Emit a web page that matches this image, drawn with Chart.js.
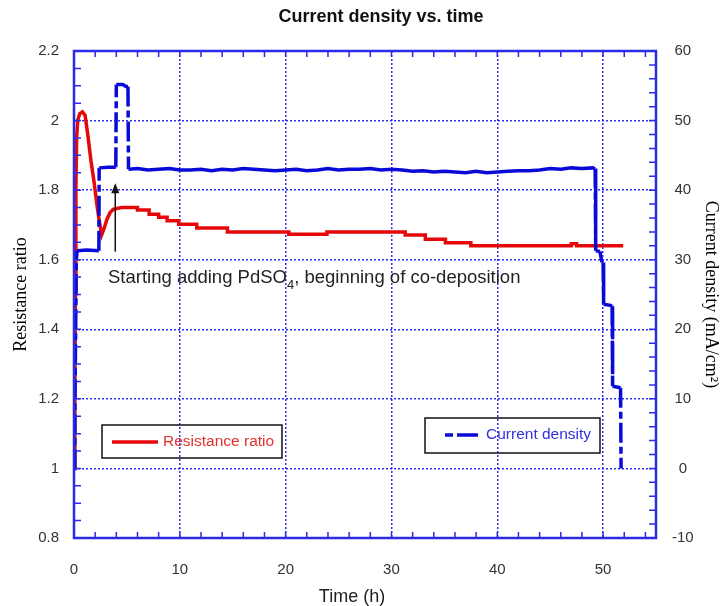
<!DOCTYPE html>
<html>
<head>
<meta charset="utf-8">
<script src="https://cdn.jsdelivr.net/npm/chart.js@4.4.0/dist/chart.umd.min.js"></script>
<style>
  html, body { margin: 0; padding: 0; background: #fff; }
</style>
</head>
<body>
<canvas id="currentChart" width="722" height="606"></canvas>
<script>
// resistance ratio (left axis) vs time in hours
const resTime = [0, 0.08, 0.13, 0.18, 0.25, 0.35, 0.55, 0.8, 1.05, 1.3,
  1.6, 1.87, 2.19, 2.45, 2.62, 2.85, 3.1, 3.4, 3.7, 4.5,
  6.0, 6.0, 7.1, 7.1, 8.0, 8.0, 8.8, 8.8, 9.9, 9.9,
  11.6, 11.6, 14.5, 14.5, 20.3, 20.3, 23.9, 23.9, 31.3, 31.3,
  33.2, 33.2, 35.1, 35.1, 37.5, 37.5, 47.0, 47.0, 47.5, 47.5, 51.9];
const resRatio = [1.0, 1.2, 1.5, 1.8, 1.95, 2.0, 2.02, 2.025, 2.015, 1.96,
  1.885, 1.829, 1.752, 1.7, 1.672, 1.69, 1.715, 1.735, 1.745, 1.75,
  1.75, 1.743, 1.743, 1.731, 1.731, 1.722, 1.722, 1.712, 1.712, 1.702,
  1.702, 1.691, 1.691, 1.68, 1.68, 1.673, 1.673, 1.68, 1.68, 1.671,
  1.671, 1.659, 1.659, 1.649, 1.649, 1.64, 1.64, 1.646, 1.646, 1.64, 1.64];

// current density (right axis, mA/cm2) vs time in hours
const curTime = [0, 0.08, 0.22, 0.3, 1.2, 2.35, 2.38, 3.2, 3.95, 4.0,
  4.6, 4.9, 5.1, 5.15, 6, 7, 8, 9, 10, 11,
  12, 13, 14, 15, 16, 17, 18, 19, 20, 21,
  22, 23, 24, 25, 26, 27, 28, 29, 30, 31,
  32, 33, 34, 35, 36, 37, 38, 39, 40, 41,
  42, 43, 44, 45, 46, 47, 48, 49, 49.25, 49.3,
  49.7, 49.9, 50.0, 50.05, 50.85, 50.9, 51.65, 51.7];
const curDensity = [0, 8, 30, 31.3, 31.4, 31.3, 43.2, 43.3, 43.3, 55.2,
  55.2, 54.9, 54.9, 43.0, 43.1, 42.9, 43.0, 43.1, 42.9, 42.9,
  43.0, 42.8, 43.0, 42.9, 43.1, 43.0, 42.9, 42.8, 42.9, 43.0,
  42.8, 42.9, 43.1, 42.9, 43.0, 43.0, 43.1, 42.9, 43.0, 42.9,
  42.7, 42.8, 42.6, 42.7, 42.6, 42.5, 42.7, 42.5, 42.6, 42.7,
  42.8, 42.8, 42.9, 43.1, 43.0, 43.2, 43.1, 43.2, 43.1, 31.3,
  31.2, 29.6, 29.6, 23.6, 23.4, 11.8, 11.6, 0];

const xRange = [0, 55];
const leftRange = [0.8, 2.2];
const rightRange = [-10, 60];

const red = '#e60808';
const blue = '#0a0ad8';
const axisBlue = '#2b2be6';
const gridBlue = 'rgba(35,35,235,0.95)';
const sans = '"Liberation Sans", Arial, sans-serif';
const serif = '"Liberation Serif", "Times New Roman", serif';
const blueDash = [20, 4, 7, 4];

const steep = c => Math.abs(c.p1.y - c.p0.y) > 2 * Math.abs(c.p1.x - c.p0.x);

const decorations = {
  id: 'decorations',
  afterDraw(chart) {
    const {ctx, chartArea: a, scales} = chart;
    const x = scales.x, y = scales.y, y2 = scales.y2;
    ctx.save();

    // inner tick marks
    ctx.strokeStyle = axisBlue;
    ctx.lineWidth = 1.5;
    ctx.beginPath();
    for (let t = 0; t <= 54; t += 2) {
      const px = x.getPixelForValue(t);
      ctx.moveTo(px, a.bottom); ctx.lineTo(px, a.bottom - 6);
      ctx.moveTo(px, a.top); ctx.lineTo(px, a.top + 6);
    }
    for (let k = 0; k <= 28; k++) {
      const py = y.getPixelForValue(0.8 + k * 0.05);
      ctx.moveTo(a.left, py); ctx.lineTo(a.left + 7, py);
    }
    for (let c = -10; c <= 60; c += 2) {
      const py = y2.getPixelForValue(c);
      ctx.moveTo(a.right, py); ctx.lineTo(a.right - 7, py);
    }
    ctx.stroke();

    // frame
    ctx.lineWidth = 2.5;
    ctx.strokeRect(a.left, a.top, a.right - a.left, a.bottom - a.top);

    // titles
    ctx.fillStyle = '#111';
    ctx.textAlign = 'center';
    ctx.textBaseline = 'middle';
    ctx.font = 'bold 18px ' + sans;
    ctx.fillText('Current density vs. time', 381, 17);
    ctx.font = '18px ' + sans;
    ctx.fillStyle = '#222';
    ctx.fillText('Time (h)', 352, 597);

    // annotation
    ctx.textAlign = 'left';
    ctx.textBaseline = 'alphabetic';
    ctx.font = '18.5px ' + sans;
    ctx.fillStyle = '#222';
    let tx = 108;
    const part1 = 'Starting adding PdSO';
    ctx.fillText(part1, tx, 283);
    tx += ctx.measureText(part1).width;
    ctx.font = '13px ' + sans;
    ctx.fillText('4', tx, 289);
    tx += ctx.measureText('4').width;
    ctx.font = '18.5px ' + sans;
    ctx.fillText(', beginning of co-deposition', tx, 283);

    // arrow
    const ax = x.getPixelForValue(3.9);
    const ayTop = y.getPixelForValue(1.82);
    const ayBot = y.getPixelForValue(1.623);
    ctx.strokeStyle = '#111';
    ctx.lineWidth = 1.5;
    ctx.beginPath();
    ctx.moveTo(ax, ayBot); ctx.lineTo(ax, ayTop + 2);
    ctx.stroke();
    ctx.fillStyle = '#111';
    ctx.beginPath();
    ctx.moveTo(ax, ayTop); ctx.lineTo(ax - 4, ayTop + 10); ctx.lineTo(ax + 4, ayTop + 10);
    ctx.closePath(); ctx.fill();

    // legend boxes
    ctx.strokeStyle = '#111';
    ctx.lineWidth = 1.5;
    ctx.strokeRect(102, 425, 180, 33);
    ctx.strokeRect(425, 418, 175, 35);

    ctx.strokeStyle = red;
    ctx.lineWidth = 3.5;
    ctx.beginPath(); ctx.moveTo(112, 442); ctx.lineTo(158, 442); ctx.stroke();
    ctx.fillStyle = '#e43030';
    ctx.font = '15.5px ' + sans;
    ctx.textBaseline = 'middle';
    ctx.fillText('Resistance ratio', 163, 442);

    ctx.strokeStyle = blue;
    ctx.beginPath();
    ctx.moveTo(445, 435); ctx.lineTo(453, 435);
    ctx.moveTo(457, 435); ctx.lineTo(478, 435);
    ctx.stroke();
    ctx.fillStyle = '#3030e0';
    ctx.fillText('Current density', 486, 435);

    ctx.restore();
  }
};

const ctx = document.getElementById('currentChart').getContext('2d');
const currentChart = new Chart(ctx, {
  type: 'line',
  data: {
    datasets: [{
      label: 'Current density',
      yAxisID: 'y2',
      order: 0,
      data: curTime.map((t, i) => ({x: t, y: curDensity[i]})),
      borderColor: blue,
      borderWidth: 3.5,
      pointRadius: 0,
      tension: 0,
      segment: { borderDash: c => steep(c) ? blueDash : undefined }
    }, {
      label: 'Resistance ratio',
      yAxisID: 'y',
      order: 1,
      data: resTime.map((t, i) => ({x: t, y: resRatio[i]})),
      borderColor: red,
      borderWidth: 3.5,
      pointRadius: 0,
      tension: 0
    }]
  },
  options: {
    responsive: false,
    animation: false,
    layout: { padding: { top: 51, left: 0, right: 0, bottom: 0 } },
    plugins: {
      legend: { display: false },
      tooltip: { enabled: false },
      title: { display: false }
    },
    scales: {
      x: {
        type: 'linear',
        min: xRange[0],
        max: xRange[1],
        afterFit: s => { s.height = 68; },
        ticks: { stepSize: 10, includeBounds: false, padding: 23, maxRotation: 0,
                 color: '#333', font: { family: sans, size: 15 } },
        grid: { color: gridBlue, lineWidth: 1.5, drawTicks: false },
        border: { display: false, dash: [2, 2] }
      },
      y: {
        position: 'left',
        min: leftRange[0],
        max: leftRange[1],
        afterFit: s => { s.width = 74; },
        ticks: { stepSize: 0.2, padding: 15, color: '#333', font: { family: sans, size: 15 },
                 callback: v => String(Math.round(v * 10) / 10) },
        grid: { color: gridBlue, lineWidth: 1.5, drawTicks: false },
        border: { display: false, dash: [2, 2] },
        title: { display: true, text: 'Resistance ratio', color: '#000',
                 font: { family: serif, size: 18 }, padding: { top: 10, bottom: 0 } }
      },
      y2: {
        position: 'right',
        min: rightRange[0],
        max: rightRange[1],
        afterFit: s => { s.width = 66; },
        ticks: { stepSize: 10, padding: 16, crossAlign: 'center', color: '#333',
                 font: { family: sans, size: 15 } },
        grid: { drawOnChartArea: false, drawTicks: false },
        border: { display: false },
        title: { display: true, text: 'Current density (mA/cm²)', color: '#000',
                 font: { family: serif, size: 18 }, padding: { top: 0, bottom: 0 } }
      }
    }
  },
  plugins: [decorations]
});
</script>
</body>
</html>
